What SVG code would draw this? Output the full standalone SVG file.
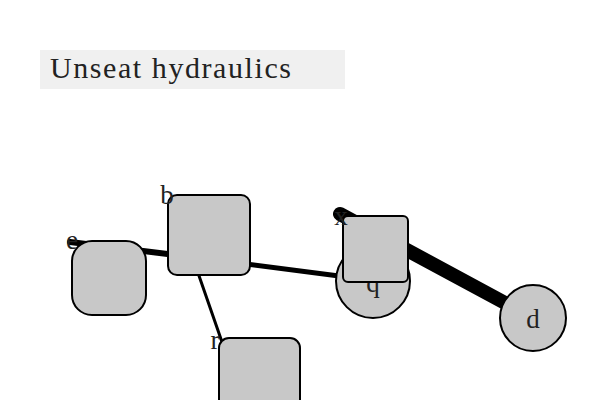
<svg xmlns="http://www.w3.org/2000/svg" width="600" height="400" viewBox="0 0 600 400">
<style>
.node{fill:#c8c8c8;stroke:#000;stroke-width:2}
.lbl{font-family:"Liberation Serif","DejaVu Serif",serif;font-size:27px;fill:#222}
.edge{stroke:#000;stroke-linecap:round;fill:none}
</style>
<rect x="0" y="0" width="600" height="400" fill="#fff"/>
<g id="title">
<rect x="40" y="50" width="305" height="39" fill="#f0f0f0"/>
<text x="50" y="78" class="lbl" style="font-size:30px" textLength="241" lengthAdjust="spacing">Unseat hydraulics</text>
</g>
<g id="connectors">
<line class="edge" x1="70" y1="242" x2="200" y2="258" stroke-width="6"/>
<line class="edge" x1="200" y1="258" x2="370" y2="280" stroke-width="5"/>
<line class="edge" x1="197" y1="270" x2="222" y2="342" stroke-width="3"/>
<line class="edge" x1="340" y1="214" x2="533" y2="318" stroke-width="14"/>
</g>
<g id="e">
<rect class="node" x="72" y="241" width="74" height="74" rx="20"/>
<text x="72" y="249" class="lbl" text-anchor="middle">e</text>
</g>
<g id="b">
<rect class="node" x="168" y="195" width="82" height="80" rx="9"/>
<text x="167" y="204" class="lbl" text-anchor="middle">b</text>
</g>
<g id="q">
<circle class="node" cx="373" cy="281" r="37"/>
<text x="373" y="292" class="lbl" text-anchor="middle">q</text>
</g>
<g id="x">
<rect class="node" x="343" y="216" width="65" height="66" rx="5"/>
<text x="341" y="225" class="lbl" text-anchor="middle">x</text>
</g>
<g id="d">
<circle class="node" cx="533" cy="318" r="33"/>
<text x="533" y="328" class="lbl" text-anchor="middle">d</text>
</g>
<g id="r">
<rect class="node" x="219" y="338" width="81" height="90" rx="10"/>
<text x="215" y="349" class="lbl" text-anchor="middle">r</text>
</g>
</svg>
